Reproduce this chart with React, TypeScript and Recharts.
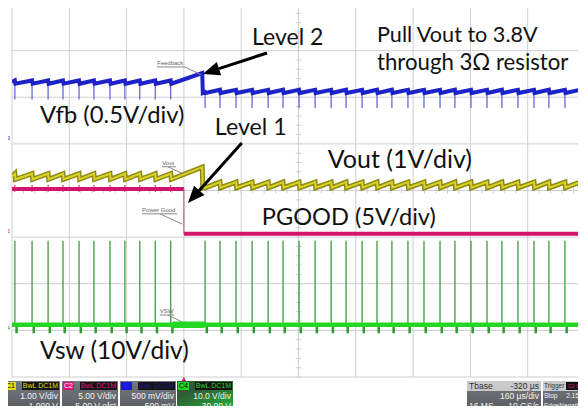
import React from 'react';
import { ComposedChart, Line, XAxis, YAxis, ReferenceLine, ReferenceDot } from 'recharts';

// screen units: time in divisions (160 us/div, 10 div), amplitude in divisions (8 div)
const switchLeft = [0.05, 0.35, 0.63, 0.89, 1.17, 1.43, 1.71, 1.97, 2.23, 2.5, 2.77];
const switchRight = [
  3.37, 3.63, 3.91, 4.19, 4.47, 4.73, 5.01, 5.29, 5.57, 5.83, 6.11, 6.37, 6.63,
  6.91, 7.19, 7.47, 7.73, 8.01, 8.29, 8.55, 8.83, 9.11, 9.37, 9.65, 9.91,
];
const stepTimes = [3.0, 3.32]; // PGOOD falls, Vout pulled down
const vswIdle = [2.8, 3.36]; // no switching while Vout is pulled up
const vfbBefore = [6.29, 6.36]; // trough, peak
const vfbAfter = [6.09, 6.16];
const vfbSpike = [5.95, 5.77];
const voutBefore = [4.24, 4.36];
const voutAfter = [4.06, 4.18];
const rampPeak = [6.52, 4.5]; // vfb, vout just before the step
const pgoodLevels = [4.03, 3.07];
const vswLevels = [1.12, 2.92, 0.94]; // base, spike top, notch

const gridX = [0, 1, 2, 3, 4, 5, 6, 7, 8, 9, 10];
const gridY = [0, 1, 2, 3, 4, 5, 6, 7, 8];

type Pt = { t: number; v: number | null };

function sawtooth(before: number[], after: number[], peak: number): Pt[] {
  const pts: Pt[] = [{ t: 0, v: (before[0] + before[1]) / 2 }];
  switchLeft.forEach((t) => pts.push({ t, v: before[1] }, { t: t + 0.01, v: before[0] }));
  pts.push({ t: stepTimes[1], v: peak }, { t: stepTimes[1] + 0.01, v: after[0] });
  switchRight.forEach((t, i) => {
    pts.push({ t, v: i === 0 ? after[0] + 0.02 : after[1] }, { t: t + 0.01, v: after[0] });
  });
  pts.push({ t: 10, v: after[1] - 0.01 });
  return pts;
}

function spikes(times: number[], from: number, to: number): Pt[] {
  const pts: Pt[] = [];
  times.forEach((t) => pts.push({ t, v: from }, { t, v: to }, { t, v: null }));
  return pts;
}

const vfbData = sawtooth(vfbBefore, vfbAfter, rampPeak[0]);
const voutData = sawtooth(voutBefore, voutAfter, rampPeak[1]);
const vfbSpikes = [
  ...spikes(switchLeft, vfbBefore[1], vfbSpike[0]),
  ...spikes(switchRight, vfbAfter[1], vfbSpike[1]),
];

const allSwitch = [...switchLeft, ...switchRight];
const vswBand: Pt[] = [
  { t: 0, v: vswLevels[0] },
  { t: 10, v: vswLevels[0] },
];
const vswIdleBand: Pt[] = vswIdle.map((t) => ({ t, v: vswLevels[0] }));
const vswSpikes = spikes(allSwitch, vswLevels[0], vswLevels[1]);
const vswNotches = spikes(allSwitch.map((t) => t + 0.03), vswLevels[0], vswLevels[2]);

const pgoodBand: Pt[] = [
  { t: 0, v: pgoodLevels[0] },
  { t: stepTimes[0], v: pgoodLevels[0] },
  { t: stepTimes[0], v: null },
  { t: stepTimes[0], v: pgoodLevels[1] },
  { t: 10, v: pgoodLevels[1] },
];
const pgoodEdge: Pt[] = [
  { t: stepTimes[0], v: pgoodLevels[0] },
  { t: stepTimes[0], v: pgoodLevels[1] },
];
const pgoodNoise = spikes(switchLeft, pgoodLevels[0] - 0.06, pgoodLevels[0] + 0.09);

const minorY = Array.from({ length: 41 }, (_, i) => i * 0.2);
const minorX = Array.from({ length: 51 }, (_, i) => i * 0.2);

const FONT = 'Lato, "Open Sans", sans-serif';
const SMALL = '"Liberation Sans", Arial, sans-serif';

const arrowShape = (p: any) => {
  const { x1, y1, x2, y2 } = p;
  const a = Math.atan2(y2 - y1, x2 - x1);
  const len = 17;
  const w = 7;
  const bx = x2 - len * Math.cos(a);
  const by = y2 - len * Math.sin(a);
  const nx = -Math.sin(a) * w;
  const ny = Math.cos(a) * w;
  return (
    <g>
      <line x1={x1} y1={y1} x2={bx} y2={by} stroke="#000" strokeWidth={3} />
      <polygon points={`${x2},${y2} ${bx + nx},${by + ny} ${bx - nx},${by - ny}`} fill="#000" />
    </g>
  );
};

const textDot = (key: string, x: number, y: number, text: string, size: number, color: string, family: string, extra: any = {}) => (
  <ReferenceDot
    key={key}
    x={x}
    y={y}
    r={0}
    ifOverflow="visible"
    shape={(p: any) => (
      <text x={p.cx} y={p.cy} fontSize={size} fill={color} fontFamily={family} {...extra}>
        {text}
      </text>
    )}
  />
);

const channels = [
  { name: 'C1', color: '#e2dc00', text: '#000', scale: '1.00 V/div', offset: '-1.000 V', left: 4 },
  { name: 'C2', color: '#e0107a', text: '#fff', scale: '5.00 V/div', offset: '-5.00 V ofst', left: 62 },
  { name: 'C3', color: '#1a1ad8', text: '#1a1ad8', scale: '500 mV/div', offset: '500 mV', left: 120 },
  { name: 'C4', color: '#22d822', text: '#000', scale: '10.0 V/div', offset: '-30.00 V', left: 177 },
];

const boxBase: React.CSSProperties = {
  position: 'absolute', top: 381, height: 32,
  fontFamily: SMALL, fontSize: 8.5, color: '#f2f2f2', lineHeight: '10px', whiteSpace: 'nowrap', overflow: 'hidden',
};

function ChannelBox({ c }: { c: (typeof channels)[number] }) {
  const active = c.name === 'C4';
  return (
    <div
      style={{
        ...boxBase, left: c.left, width: 56,
        background: active ? 'linear-gradient(160deg, #2f5a34 30%, #1fbf3a 100%)' : 'linear-gradient(#74777c, #575a5f)',
      }}
    >
      <div style={{ display: 'flex', height: 10, alignItems: 'center', padding: '0 1px' }}>
        <span style={{ background: c.color, color: c.text, fontSize: 7, padding: '0 1px', lineHeight: '8px' }}>{c.name}</span>
        <span style={{ marginLeft: 'auto', background: '#151515', color: c.name === 'C3' ? '#1a1a90' : c.color, fontSize: 7, padding: '0 1px', lineHeight: '8px' }}>
          BwL DC1M
        </span>
      </div>
      <div style={{ textAlign: 'right', paddingRight: 2 }}>{c.scale}</div>
      <div style={{ textAlign: 'right', paddingRight: 2 }}>{c.offset}</div>
    </div>
  );
}

export default function App() {
  return (
    <div style={{ position: 'relative', width: 586, height: 414, margin: -8, background: '#fff', overflow: 'hidden' }}>
      <ComposedChart width={586} height={414} margin={{ top: 4, right: 1, left: 12, bottom: 37 }}>
        <XAxis dataKey="t" type="number" domain={[0, 10]} hide allowDataOverflow />
        <YAxis type="number" domain={[0, 8]} hide allowDataOverflow />
        {gridX.map((g) => (
          <ReferenceLine key={`gx${g}`} x={g} stroke="#cfcfcf" strokeWidth={1} />
        ))}
        {gridY.map((g) => (
          <ReferenceLine key={`gy${g}`} y={g} stroke="#cfcfcf" strokeWidth={1} />
        ))}
        {minorY.map((m) => (
          <ReferenceLine key={`my${m}`} segment={[{ x: 4.95, y: m }, { x: 5.05, y: m }]} stroke="#cfcfcf" />
        ))}
        {minorX.map((m) => (
          <ReferenceLine key={`mx${m}`} segment={[{ x: m, y: 3.94 }, { x: m, y: 4.06 }]} stroke="#cfcfcf" />
        ))}

        <Line data={vfbSpikes} dataKey="v" stroke="#5b5fd6" strokeWidth={1.2} dot={false} isAnimationActive={false} connectNulls={false} />
        <Line data={vfbData} dataKey="v" stroke="#1c22c8" strokeWidth={4} dot={false} isAnimationActive={false} />

        <Line data={pgoodNoise} dataKey="v" stroke="#d4146c" strokeWidth={1} dot={false} isAnimationActive={false} connectNulls={false} />
        <Line data={pgoodBand} dataKey="v" stroke="#d4146c" strokeWidth={4} dot={false} isAnimationActive={false} connectNulls={false} />
        <Line data={pgoodEdge} dataKey="v" stroke="#c8487f" strokeWidth={1} dot={false} isAnimationActive={false} />

        <Line data={voutData} dataKey="v" stroke="#8f8a10" strokeWidth={5} dot={false} isAnimationActive={false} />
        <Line data={voutData} dataKey="v" stroke="#d8d22c" strokeWidth={2} dot={false} isAnimationActive={false} />

        <Line data={vswSpikes} dataKey="v" stroke="#3f9b3f" strokeWidth={1.3} dot={false} isAnimationActive={false} connectNulls={false} />
        <Line data={vswNotches} dataKey="v" stroke="#2f9a2f" strokeWidth={2.5} dot={false} isAnimationActive={false} connectNulls={false} />
        <Line data={vswBand} dataKey="v" stroke="#22d822" strokeWidth={4.5} dot={false} isAnimationActive={false} />
        <Line data={vswIdleBand} dataKey="v" stroke="#22d822" strokeWidth={6.5} dot={false} isAnimationActive={false} />

        {/* probe labels */}
        {textDot('fb', 2.53, 6.7, 'Feedback', 6, '#666', SMALL)}
        <ReferenceLine segment={[{ x: 2.53, y: 6.65 }, { x: 3.02, y: 6.65 }]} stroke="#888" ifOverflow="visible" />
        <ReferenceLine segment={[{ x: 3.02, y: 6.65 }, { x: 3.3, y: 6.48 }]} stroke="#888" ifOverflow="visible" />
        {textDot('vo', 2.62, 4.55, 'Vout', 6, '#666', SMALL)}
        <ReferenceLine segment={[{ x: 2.62, y: 4.51 }, { x: 2.86, y: 4.51 }]} stroke="#888" />
        <ReferenceLine segment={[{ x: 2.72, y: 4.51 }, { x: 2.98, y: 4.36 }]} stroke="#888" />
        {textDot('pg', 2.27, 3.54, 'Power Good', 6, '#666', SMALL)}
        <ReferenceLine segment={[{ x: 2.27, y: 3.5 }, { x: 2.88, y: 3.5 }]} stroke="#888" />
        <ReferenceLine segment={[{ x: 2.58, y: 3.5 }, { x: 2.97, y: 3.28 }]} stroke="#888" />
        {textDot('sw', 2.58, 1.37, 'VSW', 6, '#666', SMALL)}
        <ReferenceLine segment={[{ x: 2.58, y: 1.33 }, { x: 2.83, y: 1.33 }]} stroke="#888" />
        <ReferenceLine segment={[{ x: 2.72, y: 1.33 }, { x: 2.97, y: 1.18 }]} stroke="#888" />

        {/* channel markers */}
        {textDot('c3', -0.1, 5.09, 'C3', 6, '#3a3ad0', SMALL, { textAnchor: 'middle' })}
        {textDot('c2', -0.1, 3.09, 'C2', 6, '#d4146c', SMALL, { textAnchor: 'middle' })}
        {textDot('c4', -0.1, 1.01, 'C4', 6, '#22a022', SMALL, { textAnchor: 'middle' })}
        <ReferenceDot
          x={stepTimes[0]}
          y={-0.06}
          r={0}
          ifOverflow="visible"
          shape={(p: any) => <polygon points={`${p.cx},${p.cy - 3} ${p.cx - 3},${p.cy + 3} ${p.cx + 3},${p.cy + 3}`} fill="#d4146c" />}
        />

        {/* annotations */}
        {textDot('l2', 4.19, 7.12, 'Level 2', 23, '#111', FONT)}
        {textDot('pv', 6.37, 7.19, 'Pull Vout to 3.8V', 21.6, '#111', FONT)}
        {textDot('tr', 6.37, 6.59, 'through 3Ω resistor', 22.2, '#111', FONT)}
        {textDot('vf', 0.49, 5.45, 'Vfb (0.5V/div)', 23.8, '#111', FONT)}
        {textDot('l1', 3.54, 5.19, 'Level 1', 23.2, '#111', FONT)}
        {textDot('vt', 5.51, 4.48, 'Vout (1V/div)', 25, '#111', FONT)}
        {textDot('pd', 4.36, 3.26, 'PGOOD (5V/div)', 23.6, '#111', FONT)}
        {textDot('vs', 0.49, 0.39, 'Vsw (10V/div)', 24.5, '#111', FONT)}
        <ReferenceLine segment={[{ x: 4.45, y: 6.95 }, { x: 3.33, y: 6.5 }]} shape={arrowShape} />
        <ReferenceLine segment={[{ x: 4.01, y: 5.02 }, { x: 3.07, y: 3.73 }]} shape={arrowShape} />
      </ComposedChart>

      {channels.map((c) => (
        <ChannelBox key={c.name} c={c} />
      ))}

      <div style={{ ...boxBase, left: 467, width: 74, background: 'linear-gradient(#74777c, #575a5f)' }}>
        <div style={{ display: 'flex', background: '#c9c9c9', color: '#333', padding: '0 2px' }}>
          <span>Tbase</span>
          <span style={{ marginLeft: 'auto' }}>-320 µs</span>
        </div>
        <div style={{ textAlign: 'right', paddingRight: 2 }}>160 µs/div</div>
        <div style={{ display: 'flex', padding: '0 2px' }}>
          <span>16 MS</span>
          <span style={{ marginLeft: 'auto' }}>10 GS/s</span>
        </div>
      </div>
      <div style={{ ...boxBase, left: 543, width: 43, fontSize: 6.5, background: 'linear-gradient(#74777c, #575a5f)' }}>
        <div style={{ display: 'flex', alignItems: 'center', background: '#c9c9c9', color: '#333', padding: '0 1px' }}>
          <span>Trigger</span>
          <span style={{ marginLeft: 'auto', background: '#111', color: '#d4146c', fontSize: 5.5, padding: '0 1px', lineHeight: '8px' }}>C2 DC</span>
        </div>
        <div style={{ display: 'flex', padding: '0 1px' }}>
          <span>Stop</span>
          <span style={{ marginLeft: 'auto' }}>2.15 V</span>
        </div>
        <div style={{ display: 'flex', padding: '0 1px' }}>
          <span>Edge</span>
          <span style={{ marginLeft: 'auto' }}>Negative</span>
        </div>
      </div>
    </div>
  );
}
